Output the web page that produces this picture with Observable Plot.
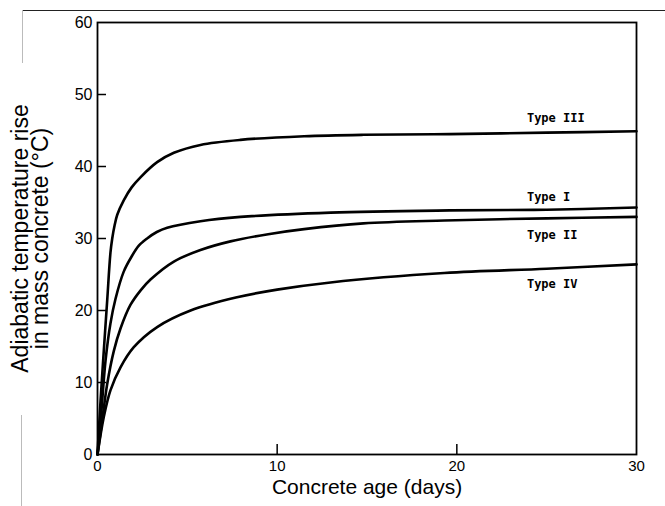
<!DOCTYPE html>
<html>
<head>
<meta charset="utf-8">
<script src="https://cdn.jsdelivr.net/npm/d3@7"></script>
<script src="https://cdn.jsdelivr.net/npm/@observablehq/plot@0.6"></script>
<style>
  html, body { margin: 0; padding: 0; background: #fff; }
  #wrap { position: relative; width: 665px; height: 506px; overflow: hidden; }
  .deco { position: absolute; }
</style>
</head>
<body>
<div id="wrap">
  <div class="deco" style="left:22px; top:10px; width:643px; height:1px; background:#222;"></div>
  <div class="deco" style="left:22px; top:10px; width:1px; height:53px; background:#bbb;"></div>
  <div class="deco" style="left:21px; top:415px; width:1px; height:91px; background:#bbb;"></div>
  <div id="chart"></div>
</div>
<script>
// ---- data ----
const seriesNames = ["Type III", "Type I", "Type II", "Type IV"];

const typeIIIDays = [0, 0.17, 0.35, 0.54, 0.72, 0.82, 0.95, 1.1, 1.46, 1.9, 2.39, 3.32, 4.25, 5.73, 7.96, 11.5, 14.8, 19.6, 25, 30];
const typeIIITemp = [0, 7.5, 14.4, 21.4, 28.0, 30.0, 31.8, 33.3, 35.3, 37.1, 38.5, 40.6, 41.9, 43.0, 43.7, 44.2, 44.4, 44.5, 44.7, 44.9];

const typeIDays = [0, 0.2, 0.45, 0.72, 1.0, 1.46, 1.9, 2.3, 2.76, 3.3, 3.88, 5.73, 7.96, 12.97, 19.6, 25, 30];
const typeITemp = [0, 5.5, 13.1, 18.2, 21.6, 25.4, 27.5, 29.0, 30.0, 30.9, 31.5, 32.4, 33.0, 33.6, 33.9, 34.0, 34.3];

const typeIIDays = [0, 0.25, 0.54, 0.91, 1.28, 1.84, 2.4, 2.95, 4.25, 5.73, 7.4, 9.5, 11.5, 14.8, 19.3, 25, 30];
const typeIITemp = [0, 4.5, 9.8, 14.4, 17.5, 20.8, 22.8, 24.3, 26.8, 28.4, 29.6, 30.6, 31.3, 32.1, 32.5, 32.8, 33.0];

const typeIVDays = [0, 0.35, 0.72, 1.28, 2.02, 3.32, 5.18, 7.7, 10, 12.97, 19.3, 25, 30];
const typeIVTemp = [0, 5.2, 8.9, 12.1, 14.9, 17.7, 20.0, 21.8, 22.9, 23.9, 25.2, 25.8, 26.4];

const labelDay = [23.9, 23.9, 23.9, 23.9];
const labelTemp = [46.7, 35.7, 30.4, 23.6];

const xTicks = [0, 10, 20, 30];
const yTicks = [0, 10, 20, 30, 40, 50, 60];
const xInnerTicks = [10, 20];
const yInnerTicks = [10, 20, 30, 40, 50];

const xLabel = "Concrete age (days)";
const yLabel = "Adiabatic temperature rise\nin mass concrete (°C)";

// ---- build table ----
const allDays = [typeIIIDays, typeIDays, typeIIDays, typeIVDays];
const allTemp = [typeIIITemp, typeITemp, typeIITemp, typeIVTemp];
const rows = seriesNames.flatMap((name, i) =>
  allDays[i].map((d, j) => ({series: name, day: d, temp: allTemp[i][j]})));
const labels = seriesNames.map((name, i) => ({name, day: labelDay[i], temp: labelTemp[i]}));

const chart = Plot.plot({
  width: 665,
  height: 506,
  marginLeft: 97,
  marginRight: 29,
  marginTop: 22,
  marginBottom: 52,
  style: {fontFamily: "'Liberation Sans', Arial, sans-serif", color: "black", background: "transparent"},
  x: {domain: [0, 30]},
  y: {domain: [0, 60]},
  marks: [
    Plot.axisX({ticks: xTicks, tickSize: 0, tickPadding: 6, fontSize: 15, label: null}),
    Plot.axisX({ticks: xInnerTicks, tickSize: 10, dy: -10, fill: "none", strokeWidth: 1.5, label: null}),
    Plot.axisY({ticks: yTicks, tickSize: 0, tickPadding: 5, fontSize: 16, label: null}),
    Plot.axisY({ticks: yInnerTicks, tickSize: 9, dx: 9, fill: "none", strokeWidth: 1.5, label: null}),
    Plot.line(rows, {x: "day", y: "temp", z: "series", curve: "catmull-rom", stroke: "black", strokeWidth: 2.6}),
    Plot.frame({stroke: "black", strokeWidth: 1.8}),
    Plot.text(labels, {x: "day", y: "temp", text: "name", textAnchor: "start", fontFamily: "'DejaVu Sans Mono', monospace", fontWeight: "bold", fontSize: 12, fill: "black"}),
    Plot.text([xLabel], {frameAnchor: "bottom", dy: 39, fontSize: 21, fill: "black"}),
    Plot.text([yLabel], {frameAnchor: "left", textAnchor: "middle", rotate: -90, dx: -66, fontSize: 23, lineHeight: 0.9, fill: "black"})
  ]
});
document.getElementById("chart").appendChild(chart);
</script>
</body>
</html>
